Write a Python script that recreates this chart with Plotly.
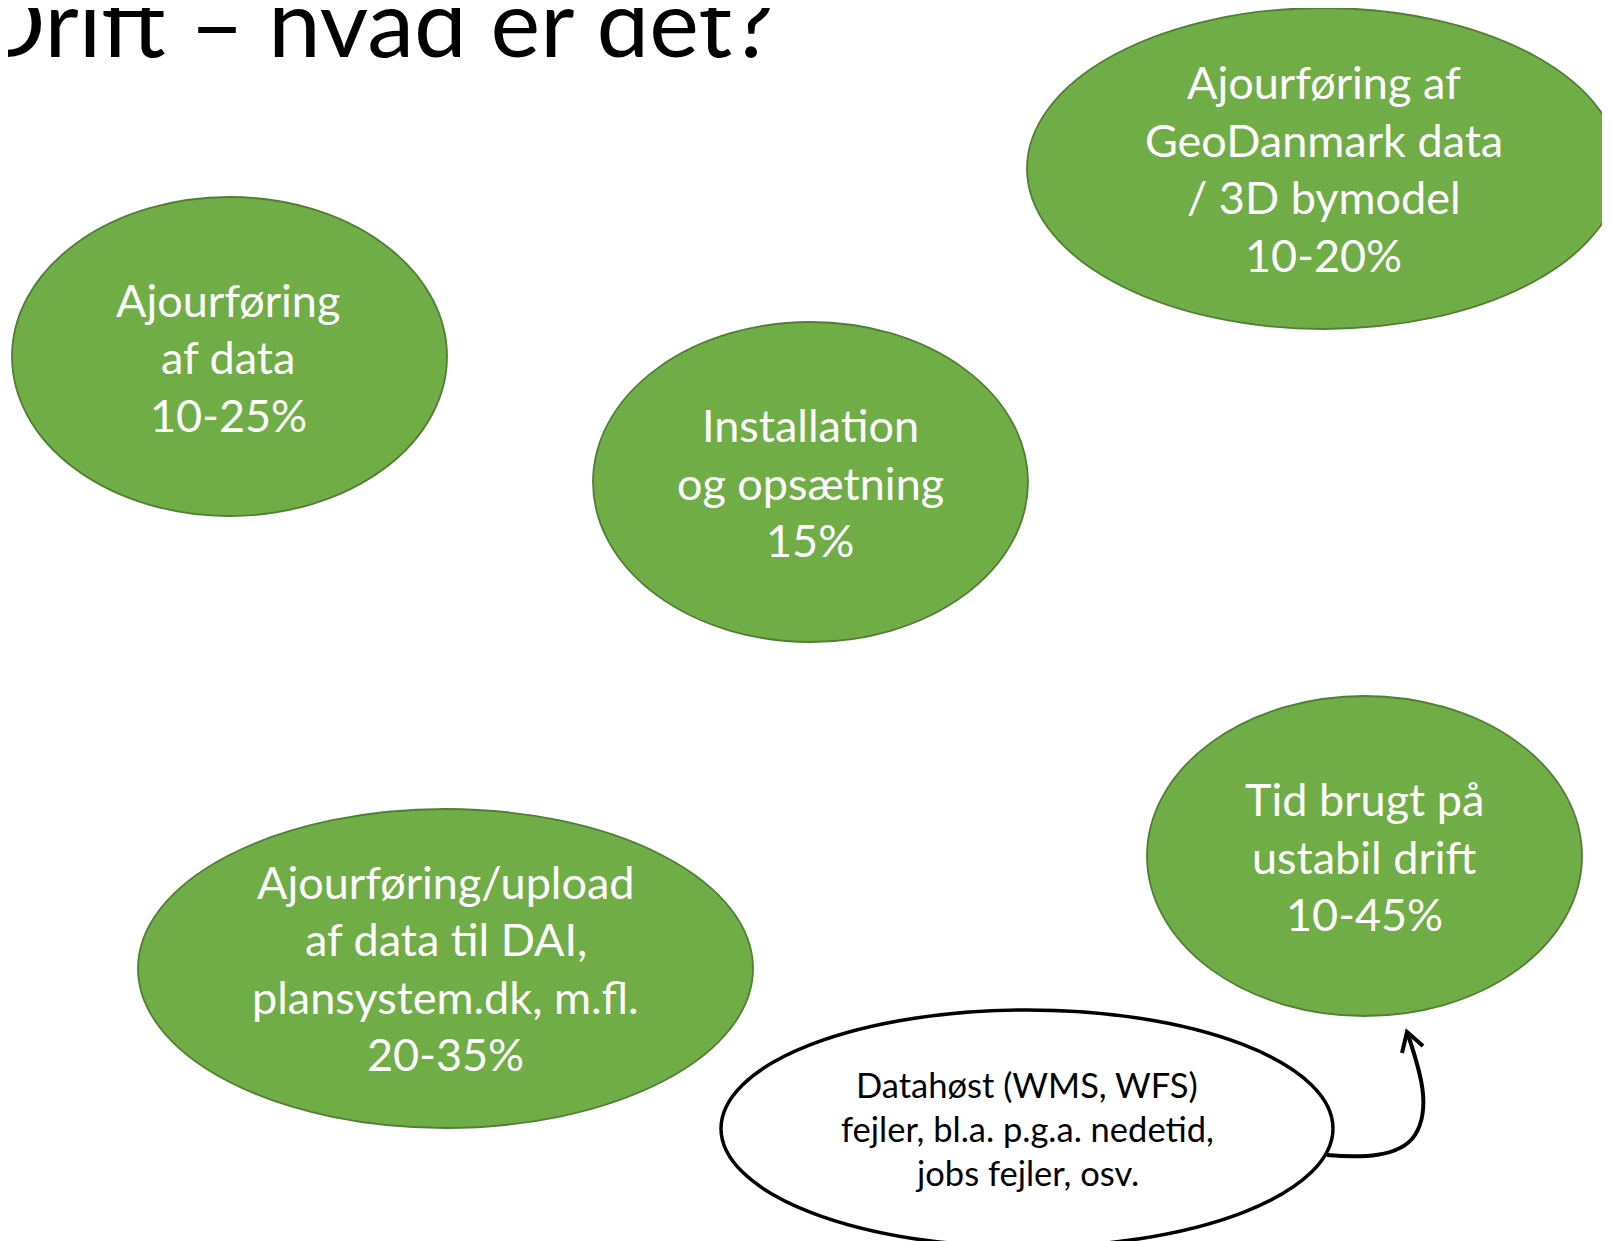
import plotly.graph_objects as go

# ---- content (data) ----
title_text = "Drift – hvad er det?"
labels = [
    ["Ajourføring", "af data"],
    ["Installation", "og opsætning"],
    ["Ajourføring af", "GeoDanmark data", "/ 3D bymodel"],
    ["Ajourføring/upload", "af data til DAI,", "plansystem.dk, m.fl."],
    ["Tid brugt på", "ustabil drift"],
]
shares = ["10-25%", "15%", "10-20%", "20-35%", "10-45%"]
note_lines = ["Datahøst (WMS, WFS)", "fejler, bl.a. p.g.a. nedetid,", "jobs fejler, osv."]

# ---- layout geometry (page pixels, y downward) ----
W, H = 1610, 1241
OFF = 8  # default page body margin
ellipses = [  # x0, x1, y0, y1
    (12, 447, 197, 516),
    (593, 1028, 322, 642),
    (1027, 1620, 8, 329),
    (138, 753, 809, 1128),
    (1147, 1582, 696, 1016),
]
text_centers = [(228, 357), (810, 482.5), (1323.5, 168.5), (445.6, 968), (1364, 856.5)]
note_box = (721, 1333, 1010, 1247)
note_center = (1027, 1128)

FONT = "Lato"
BIG = 45
SMALL = 34.5
TITLE = 94
LINE_BIG = 57.5
LINE_SMALL = 44
GREEN = "#70AD47"
GREEN_EDGE = "#507E32"

fig = go.Figure()
fig.add_trace(go.Scatter(x=[OFF, W + OFF], y=[OFF, H + OFF], mode="markers", marker=dict(opacity=0),
                         hoverinfo="skip", showlegend=False))

shapes = []
for (x0, x1, y0, y1) in ellipses:
    shapes.append(dict(type="circle", xref="x", yref="y", x0=x0, x1=x1, y0=y0, y1=y1,
                       fillcolor=GREEN, line=dict(color=GREEN_EDGE, width=1.8), layer="below"))
x0, x1, y0, y1 = note_box
shapes.append(dict(type="circle", xref="x", yref="y", x0=x0, x1=x1, y0=y0, y1=y1,
                   fillcolor="white", line=dict(color="black", width=3.5), layer="below"))
# curved arrow
shapes.append(dict(type="path", xref="x", yref="y",
                   path="M 1327,1155 C 1360,1158 1400,1158 1415,1135 C 1432,1108 1420,1070 1407,1032",
                   line=dict(color="black", width=4), layer="above"))
shapes.append(dict(type="path", xref="x", yref="y",
                   path="M 1402,1053 L 1407,1032 L 1423,1046",
                   line=dict(color="black", width=4), layer="above"))

annotations = []
for lab, share, (cx, cy) in zip(labels, shares, text_centers):
    lines = lab + [share]
    n = len(lines)
    for i, ln in enumerate(lines):
        y = cy + (i - (n - 1) / 2) * LINE_BIG
        annotations.append(dict(x=cx, y=y, xref="x", yref="y", text=ln, showarrow=False,
                                xanchor="center", yanchor="middle",
                                font=dict(family=FONT, size=BIG, color="white")))
cx, cy = note_center
n = len(note_lines)
for i, ln in enumerate(note_lines):
    y = cy + (i - (n - 1) / 2) * LINE_SMALL
    annotations.append(dict(x=cx, y=y, xref="x", yref="y", text=ln, showarrow=False,
                            xanchor="center", yanchor="middle",
                            font=dict(family=FONT, size=SMALL, color="black")))
annotations.append(dict(x=OFF, y=20, xref="x", yref="y", xshift=-36, text=title_text, showarrow=False,
                        xanchor="left", yanchor="middle",
                        font=dict(family=FONT, size=TITLE, color="black")))

fig.update_layout(
    width=W, height=H, margin=dict(l=0, r=0, t=0, b=0),
    paper_bgcolor="white", plot_bgcolor="white",
    xaxis=dict(range=[OFF, W + OFF], visible=False, fixedrange=True),
    yaxis=dict(range=[H + OFF, OFF], visible=False, fixedrange=True),
    shapes=shapes, annotations=annotations, showlegend=False,
)
fig.write_html("out.html")
